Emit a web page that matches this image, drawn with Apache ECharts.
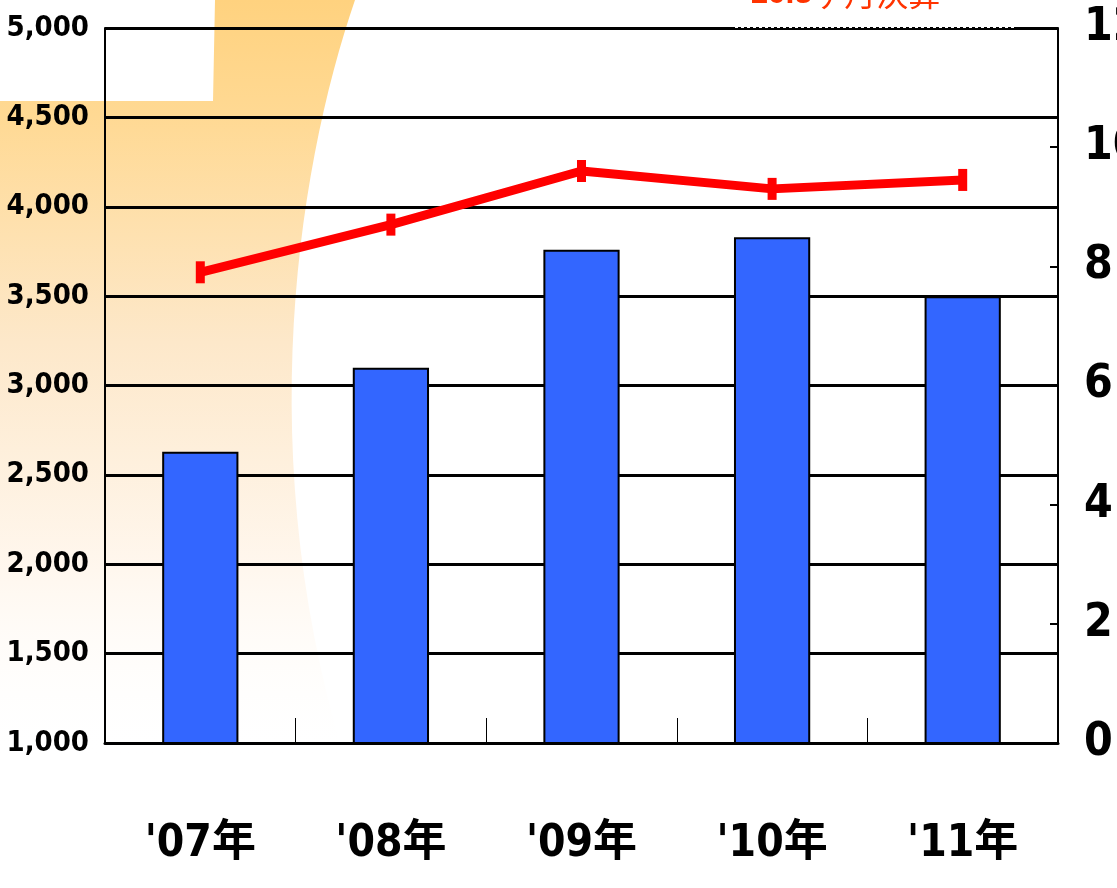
<!DOCTYPE html>
<html>
<head>
<meta charset="utf-8">
<title>売上推移</title>
<script src="https://cdn.jsdelivr.net/npm/echarts@6/dist/echarts.min.js"></script>
<style>
  html, body { margin: 0; padding: 0; background: #fff; }
  #chart { width: 1117px; height: 888px; }
</style>
</head>
<body>
<div id="chart"></div>
<script>
/* === Data === */
const years = ["'07年", "'08年", "'09年", "'10年", "'11年"];
const barValues = [2630, 3100, 3760, 3830, 3500];
const lineValues = [7.9, 8.7, 9.6, 9.3, 9.45];
const noteText = ['10.3', 'ヶ月決算'];

/* === Style === */
const LABEL_FONT = "'DejaVu Sans Condensed', 'Noto Sans CJK JP', sans-serif";

// background swoosh outline: box on the left + curved right edge (cubic bezier)
function swooshPoints() {
  const pts = [[0, 101], [213, 101], [215, 0]];
  const p0 = [355, 0], p1 = [300, 160], p2 = [250, 450], p3 = [345, 760];
  for (let i = 0; i <= 30; i++) {
    const t = i / 30, u = 1 - t;
    pts.push([
      u * u * u * p0[0] + 3 * u * u * t * p1[0] + 3 * u * t * t * p2[0] + t * t * t * p3[0],
      u * u * u * p0[1] + 3 * u * u * t * p1[1] + 3 * u * t * t * p2[1] + t * t * t * p3[1]
    ]);
  }
  pts.push([0, 760]);
  return pts;
}

function init() {
  const el = document.getElementById('chart');
  const chart = echarts.init(el, null, { renderer: 'canvas' });

  chart.setOption({
    backgroundColor: '#fff',
    animation: false,
    grid: { left: 105, right: 59, top: 28, bottom: 145, containLabel: false, outerBoundsMode: 'none' },
    graphic: [
      {
        type: 'polygon',
        z: -100,
        silent: true,
        shape: { points: swooshPoints() },
        style: {
          fill: {
            type: 'linear', x: 0, y: 0, x2: 0, y2: 1,
            colorStops: [
              { offset: 0, color: '#FFD27F' },
              { offset: 0.15, color: '#FFD993' },
              { offset: 0.45, color: '#FDE8CA' },
              { offset: 0.75, color: '#FFF7EE' },
              { offset: 1, color: 'rgba(255,255,255,0)' }
            ]
          }
        }
      },
      // note at top
      {
        type: 'text',
        z: 100,
        left: 750,
        top: -22,
        style: {
          text: '{b|' + noteText[0] + '}{r|' + noteText[1] + '}',
          rich: {
            b: { fontSize: 32, fontWeight: 'bold', fill: '#FF3300', fontFamily: "'Liberation Sans', sans-serif" },
            r: { fontSize: 32, fill: '#FF3300', fontFamily: "'Noto Sans CJK JP', sans-serif" }
          }
        }
      },
      {
        type: 'line',
        z: 100,
        shape: { x1: 735, y1: 26.5, x2: 1015, y2: 26.5 },
        style: { stroke: '#fff', lineWidth: 3, lineDash: [3, 3] }
      }
    ],
    xAxis: {
      type: 'category',
      data: years,
      boundaryGap: true,
      axisLine: { lineStyle: { color: '#000', width: 3 } },
      axisTick: { show: true, inside: true, length: 25, lineStyle: { color: '#000', width: 1 } },
      axisLabel: {
        color: '#000', fontSize: 44, fontWeight: 'bold',
        fontFamily: LABEL_FONT, margin: 80
      }
    },
    yAxis: [
      {
        type: 'value',
        min: 1000, max: 5000, interval: 500,
        axisLine: { show: true, lineStyle: { color: '#000', width: 2 } },
        axisTick: { show: false },
        splitLine: { lineStyle: { color: '#000', width: 3 } },
        axisLabel: {
          color: '#000', fontSize: 29, fontWeight: 'bold',
          fontFamily: LABEL_FONT, margin: 16,
          formatter: v => v.toLocaleString('en-US')
        }
      },
      {
        type: 'value',
        min: 0, max: 12, interval: 2,
        position: 'right',
        axisLine: { show: true, lineStyle: { color: '#000', width: 2 } },
        axisTick: { show: true, inside: true, length: 8, lineStyle: { color: '#000', width: 2 } },
        splitLine: { show: false },
        axisLabel: {
          color: '#000', fontSize: 46, fontWeight: 'bold',
          fontFamily: LABEL_FONT, margin: 26
        }
      }
    ],
    series: [
      {
        name: '売上',
        type: 'bar',
        data: barValues,
        barWidth: '40%',
        itemStyle: { color: '#3366FF', borderColor: '#000', borderWidth: 2 }
      },
      {
        name: '比率',
        type: 'line',
        yAxisIndex: 1,
        data: lineValues,
        z: 5,
        symbol: 'rect',
        symbolSize: [9, 22],
        lineStyle: { color: '#FF0000', width: 9 },
        itemStyle: { color: '#FF0000' }
      }
    ]
  });
  window.addEventListener('resize', () => chart.resize());
}

if (document.readyState === 'loading') {
  document.addEventListener('DOMContentLoaded', init);
} else {
  init();
}
</script>
</body>
</html>
